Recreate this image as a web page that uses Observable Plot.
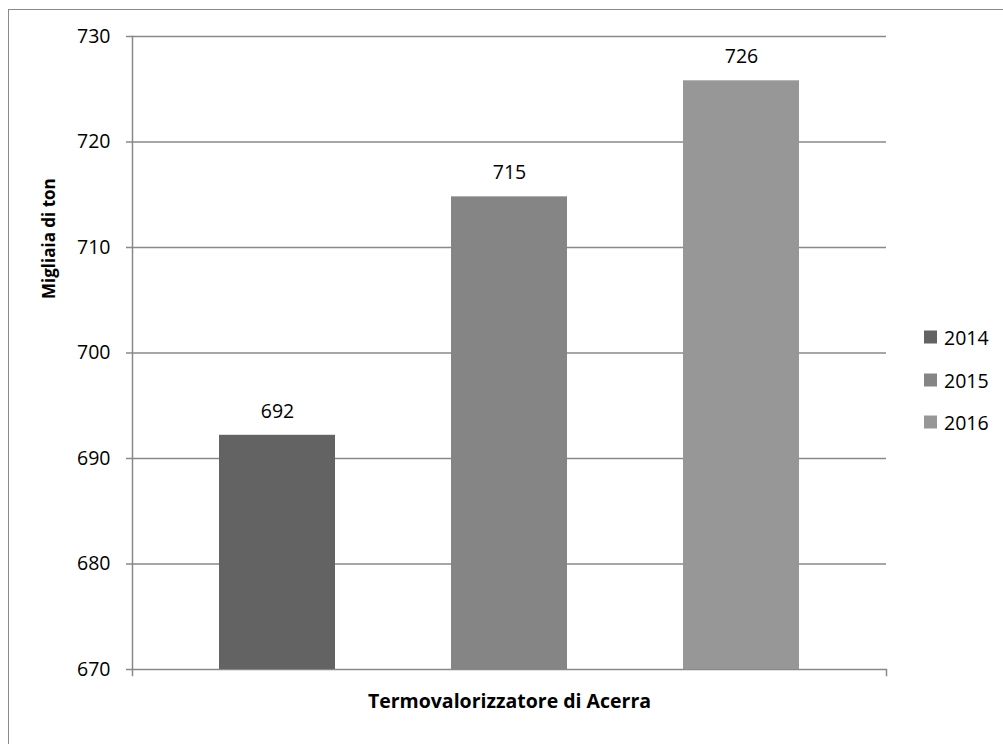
<!DOCTYPE html>
<html>
<head>
<meta charset="utf-8">
<script src="https://cdn.jsdelivr.net/npm/d3@7"></script>
<script src="https://cdn.jsdelivr.net/npm/@observablehq/plot@0.6"></script>
<style>
  html, body { margin: 0; padding: 0; background: #fff; }
  #wrap { position: relative; width: 1003px; height: 744px; overflow: hidden; font-family: "Open Sans", sans-serif; }
  #border { position: absolute; left: 8px; top: 9px; width: 1100px; height: 900px; border-top: 1.5px solid #8a8a8a; border-left: 1.5px solid #8a8a8a; box-sizing: border-box; }
  #chart { position: absolute; left: 0; top: 0; }
  #legend { position: absolute; left: 924px; top: 0; }
  .item { position: absolute; left: 0; display: flex; align-items: center; white-space: nowrap; font-size: 19.5px; color: #000; transform: translateY(-50%); }
  .sw { width: 13px; height: 13px; margin-right: 7px; }
</style>
</head>
<body>
<div id="wrap">
  <div id="border"></div>
  <div id="chart"></div>
  <div id="legend"></div>
</div>
<script>
const categories = ["Termovalorizzatore di Acerra"];
const years = ["2014", "2015", "2016"];
const values = [692.2, 714.8, 725.8];
const colors = ["#636363", "#858585", "#979797"];
const yTicks = [670, 680, 690, 700, 710, 720, 730];
const yTitle = "Migliaia di ton";

const data = years.map((y, i) => ({year: y, value: values[i]}));

const W = 1003, H = 744;
const mL = 132, mR = 117, mT = 36, mB = 75;
const plotH = H - mT - mB;
const grid = "#898989";

const chart = Plot.plot({
  width: W, height: H,
  marginLeft: mL, marginRight: mR, marginTop: mT, marginBottom: mB,
  style: {fontFamily: "'Open Sans', sans-serif", fontSize: "19.5px", color: "#000", background: "transparent", overflow: "visible"},
  x: {type: "band", domain: years, paddingInner: 0.5, paddingOuter: 0.375, axis: null},
  y: {domain: [yTicks[0], yTicks[yTicks.length - 1]], ticks: yTicks, label: null, axis: null},
  color: {domain: years, range: colors},
  marks: [
    Plot.ruleY(yTicks, {stroke: grid, strokeWidth: 1.5, insetLeft: -6}),
    Plot.barY(data, {x: "year", y1: yTicks[0], y2: "value", fill: "year"}),
    Plot.frame({anchor: "left", stroke: grid, strokeWidth: 1.5, insetBottom: -6}),
    Plot.frame({anchor: "right", stroke: grid, strokeWidth: 1.5, insetTop: plotH, insetBottom: -6}),
    Plot.axisY({ticks: yTicks, tickSize: 0, tickPadding: 22, tickFormat: d3.format("d"), label: null, fill: "#000"}),
    Plot.text(data, {x: "year", y: "value", text: d => d3.format(".0f")(d.value), dy: -24, fill: "#000", fontSize: 19.5}),
    Plot.text(categories, {frameAnchor: "bottom", dy: 38, fontWeight: "bold", fontSize: 19.5, fill: "#000"}),
    Plot.text([yTitle], {frameAnchor: "left", dx: -83, dy: -54, rotate: -90, fontWeight: "bold", fontSize: 17, fill: "#000"})
  ]
});
document.getElementById("chart").appendChild(chart);

const legendY = [337, 380, 422];
const lg = document.getElementById("legend");
years.forEach((y, i) => {
  const it = document.createElement("div");
  it.className = "item";
  it.style.top = legendY[i] + "px";
  const sw = document.createElement("span");
  sw.className = "sw";
  sw.style.background = colors[i];
  const t = document.createElement("span");
  t.textContent = y;
  it.appendChild(sw); it.appendChild(t);
  lg.appendChild(it);
});
</script>
</body>
</html>
